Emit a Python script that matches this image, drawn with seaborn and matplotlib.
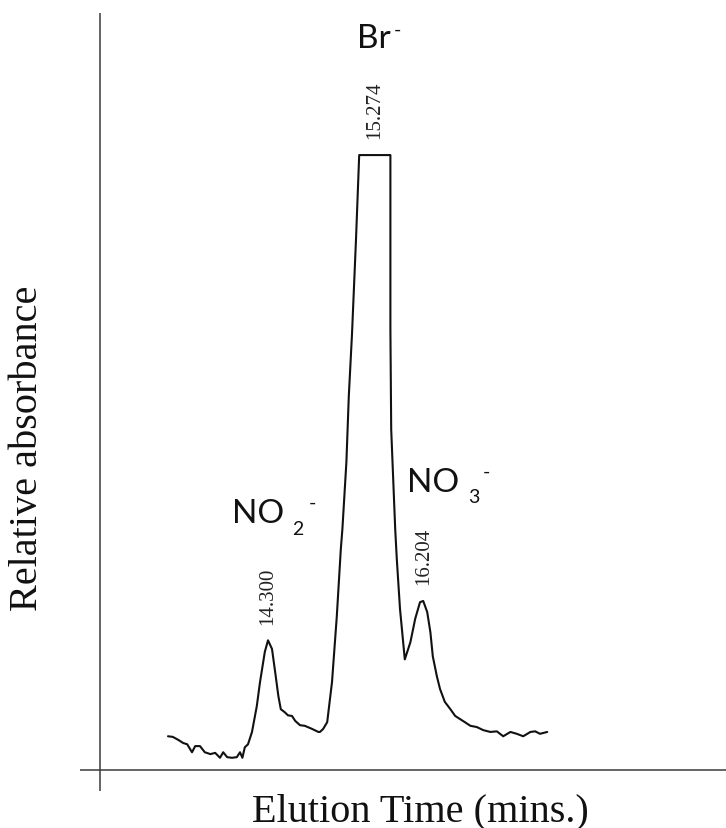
import matplotlib
matplotlib.use("Agg")
import matplotlib.pyplot as plt
import seaborn as sns
import pandas as pd

# ---- data ----
time_min = [13.05, 13.11, 13.18, 13.24, 13.29, 13.35, 13.39, 13.45, 13.51, 13.58,
            13.64, 13.70, 13.74, 13.79, 13.85, 13.91, 13.95, 13.98, 14.01, 14.05,
            14.10, 14.16, 14.20, 14.26, 14.30, 14.35, 14.39, 14.43, 14.46, 14.51,
            14.55, 14.60, 14.64, 14.70, 14.76, 14.85, 14.93, 14.95, 14.99, 15.04,
            15.10, 15.16, 15.21, 15.23, 15.28, 15.31, 15.35, 15.40, 15.44, 15.83,
            15.83, 15.84, 15.89, 15.91, 15.95, 16.01, 16.08, 16.14, 16.20, 16.24,
            16.29, 16.33, 16.36, 16.41, 16.45, 16.51, 16.58, 16.64, 16.70, 16.76,
            16.83, 16.91, 16.99, 17.08, 17.16, 17.24, 17.33, 17.41, 17.49, 17.58,
            17.64, 17.70, 17.79]
absorbance = [0.055, 0.054, 0.049, 0.044, 0.042, 0.029, 0.039, 0.039, 0.029, 0.026,
              0.028, 0.020, 0.029, 0.021, 0.020, 0.021, 0.029, 0.020, 0.037, 0.042,
              0.062, 0.104, 0.143, 0.192, 0.211, 0.197, 0.159, 0.120, 0.099, 0.094,
              0.089, 0.088, 0.080, 0.073, 0.072, 0.067, 0.062, 0.062, 0.067, 0.078,
              0.143, 0.250, 0.359, 0.392, 0.501, 0.608, 0.709, 0.863, 1.000, 1.000,
              0.717, 0.554, 0.392, 0.343, 0.262, 0.180, 0.208, 0.246, 0.273, 0.275,
              0.257, 0.224, 0.185, 0.153, 0.132, 0.111, 0.099, 0.088, 0.083, 0.078,
              0.072, 0.070, 0.065, 0.062, 0.063, 0.055, 0.062, 0.059, 0.055, 0.062,
              0.063, 0.059, 0.062]

peak_labels = ["14.300", "15.274", "16.204"]
peak_times = [14.30, 15.63, 16.24]
peak_heights = [0.211, 1.000, 0.275]

x_label = "Elution Time (mins.)"
y_label = "Relative absorbance"

df = pd.DataFrame({"t": time_min, "a": absorbance})

sns.set_theme(style="white")
plt.rcParams["font.family"] = ["Liberation Serif", "DejaVu Serif"]

W, H = 726, 829
fig = plt.figure(figsize=(W / 100, H / 100), dpi=100)
ax = fig.add_axes([80 / W, (H - 792) / H, (W - 80) / W, (792 - 14) / H])
ax.set_xlim(11.95, 20.025)
ax.set_ylim(-0.034, 1.231)
for s in ax.spines.values():
    s.set_visible(False)
ax.set_xticks([])
ax.set_yticks([])
ax.set_facecolor("white")

# axis lines
ax.axvline(12.2, color="#3a3a3a", lw=1.1)
ax.axhline(0.0, color="#3a3a3a", lw=1.1)

sns.lineplot(data=df, x="t", y="a", ax=ax, color="#111111", lw=1.5,
             estimator=None, sort=False)
ax.set_xlabel("")
ax.set_ylabel("")

# retention time labels
for lab, t, h in zip(peak_labels, peak_times, peak_heights):
    ax.annotate(lab, xy=(t, h), xytext=(0, 12), textcoords="offset points",
                rotation=90, ha="center", va="bottom", fontsize=15,
                family=["Liberation Serif"], color="#222222")

# ion labels
ion_font = ["Lato", "DejaVu Sans"]
ax.text(13.85, 0.403, "NO", fontsize=24, family=ion_font, ha="left", va="baseline", color="#111111")
ax.text(14.60, 0.384, "2", fontsize=14, family=ion_font, ha="left", va="baseline", color="#111111")
ax.text(14.86, 0.436, "-", fontsize=14, family=ion_font, ha="center", va="center", color="#111111")

ax.text(16.04, 0.454, "NO", fontsize=24, family=ion_font, ha="left", va="baseline", color="#111111")
ax.text(16.80, 0.436, "3", fontsize=14, family=ion_font, ha="left", va="baseline", color="#111111")
ax.text(17.03, 0.486, "-", fontsize=14, family=ion_font, ha="center", va="center", color="#111111")

ax.text(15.41, 1.176, "Br", fontsize=24, family=ion_font, ha="left", va="baseline", color="#111111")
ax.text(15.92, 1.205, "-", fontsize=14, family=ion_font, ha="center", va="center", color="#111111")

# axis titles
fig.text(420 / W, 1 - 821 / H, x_label, fontsize=29, ha="center", va="baseline",
         family=["Liberation Serif"], color="#111111")
fig.text(28 / W, 1 - 448 / H, y_label, fontsize=29, rotation=90, ha="center",
         va="center", family=["Liberation Serif"], color="#111111")

fig.savefig("out.png", dpi=100, facecolor="white")
